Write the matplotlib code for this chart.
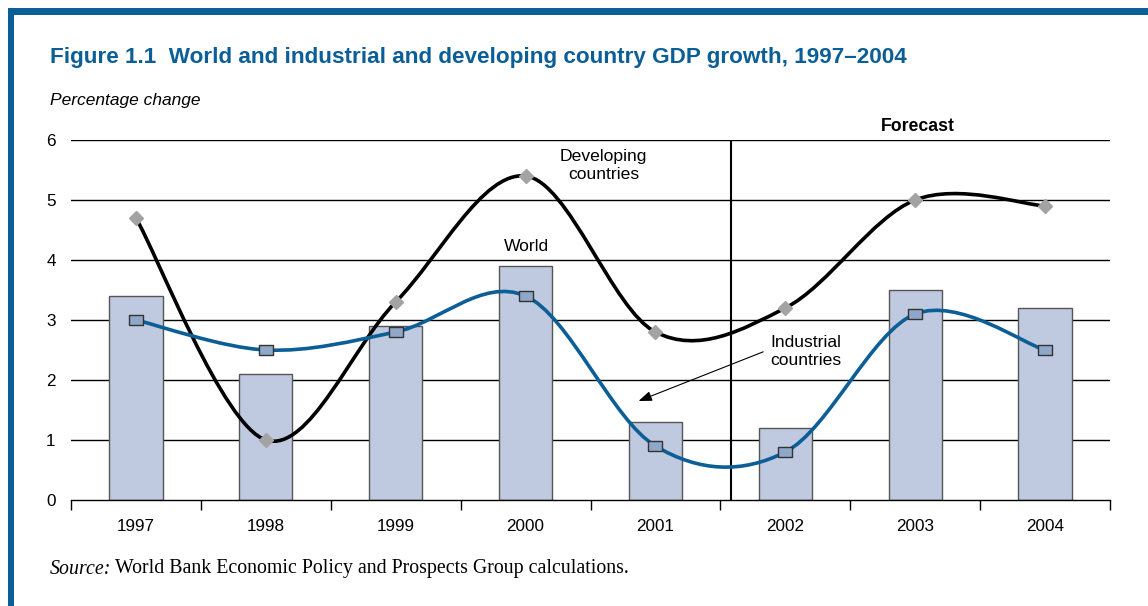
import numpy as np
import matplotlib
matplotlib.use("Agg")
import matplotlib.pyplot as plt
from matplotlib.path import Path
from matplotlib.patches import PathPatch, Rectangle

years = ["1997", "1998", "1999", "2000", "2001", "2002", "2003", "2004"]
world = [3.4, 2.1, 2.9, 3.9, 1.3, 1.2, 3.5, 3.2]
developing = [4.7, 1.0, 3.3, 5.4, 2.8, 3.2, 5.0, 4.9]
industrial = [3.0, 2.5, 2.8, 3.4, 0.9, 0.8, 3.1, 2.5]
yticks = [0, 1, 2, 3, 4, 5, 6]

BLUE = "#0b5e96"
W, H = 1148, 606

plt.rcParams['font.family'] = ['Liberation Sans', 'DejaVu Sans']

fig = plt.figure(figsize=(W / 100, H / 100), dpi=100)

def px(x0, y0, x1, y1):
    return [x0 / W, 1 - y1 / H, (x1 - x0) / W, (y1 - y0) / H]

# frame
fig.patches.append(Rectangle((8 / W, 1 - 15 / H), (W - 8) / W, 7 / H, transform=fig.transFigure,
                             facecolor=BLUE, edgecolor="none", zorder=5))
fig.patches.append(Rectangle((8 / W, 0), 6 / W, 1 - 8 / H, transform=fig.transFigure,
                             facecolor=BLUE, edgecolor="none", zorder=5))

ax = fig.add_axes(px(71, 140, 1110, 500))
x = np.arange(len(years))

ax.set_xlim(-0.5, len(years) - 0.5)
ax.set_ylim(0, 6)

for yv in yticks[1:]:
    ax.axhline(yv, color="black", lw=1.0, zorder=1)

ax.bar(x, world, width=0.41, color="#bfc9e0", edgecolor="#555555", linewidth=1.0, zorder=2)

ax.plot([4.58, 4.58], [0, 6], color="black", lw=1.5, zorder=3)


def smooth_path(xs, ys):
    pts = np.column_stack([xs, ys]).astype(float)
    n = len(pts)
    verts = [pts[0]]
    codes = [Path.MOVETO]
    for i in range(n - 1):
        p0 = pts[i - 1] if i > 0 else pts[i]
        p1 = pts[i]
        p2 = pts[i + 1]
        p3 = pts[i + 2] if i + 2 < n else pts[i + 1]
        c1 = p1 + (p2 - p0) / 6.0
        c2 = p2 - (p3 - p1) / 6.0
        verts += [c1, c2, p2]
        codes += [Path.CURVE4] * 3
    return Path(verts, codes)


ax.add_patch(PathPatch(smooth_path(x, developing), facecolor="none", edgecolor="black",
                       lw=2.6, zorder=4, capstyle="round", joinstyle="round"))
ax.add_patch(PathPatch(smooth_path(x, industrial), facecolor="none", edgecolor=BLUE,
                       lw=2.6, zorder=4, capstyle="round", joinstyle="round"))

ax.plot(x, developing, linestyle="none", marker="D", markersize=7.5, color="#a3a3a3",
        markeredgecolor="#a3a3a3", zorder=5)
rect = [(-1, -0.72), (1, -0.72), (1, 0.72), (-1, 0.72), (-1, -0.72)]
ax.plot(x, industrial, linestyle="none", marker=rect, markersize=10, color="#8fa7c9",
        markeredgecolor="#333333", markeredgewidth=1.0, zorder=5)

# axes styling
for s in ["top", "right", "left"]:
    ax.spines[s].set_visible(False)
ax.spines["bottom"].set_linewidth(1.0)
ax.spines["bottom"].set_zorder(6)

ax.set_yticks(yticks)
ax.set_yticklabels([str(v) for v in yticks], fontsize=12.3)
ax.tick_params(axis="y", length=0, pad=11)

ax.set_xticks(x)
ax.set_xticklabels(years, fontsize=12.3)
ax.set_xticks(np.arange(len(years) + 1) - 0.5, minor=True)
ax.tick_params(axis="x", which="major", length=0, pad=14)
ax.tick_params(axis="x", which="minor", length=7, width=1.0, direction="out")

# labels on the chart
ax.text(3.6, 5.58, "Developing\ncountries", ha="center", va="center", fontsize=12.6, linespacing=1.25)
ax.text(3.01, 4.23, "World", ha="center", va="center", fontsize=12.6)
ax.text(5.16, 2.47, "Industrial\ncountries", ha="center", va="center", fontsize=12.6, linespacing=1.25)
ax.annotate("", xy=(3.87, 1.65), xytext=(4.83, 2.47),
            arrowprops=dict(arrowstyle="-|>,head_length=0.8,head_width=0.3", color="black", lw=0.8,
                            shrinkA=0, shrinkB=0))
ax.text(6.02, 6.23, "Forecast", ha="center", va="center", fontsize=12.7, fontweight="bold")

# titles
fig.text(50 / W, 1 - 58 / H, "Figure 1.1  World and industrial and developing country GDP growth, 1997\u20132004",
         fontsize=16.2, fontweight="bold", color=BLUE, ha="left", va="center")
fig.text(50 / W, 1 - 100 / H, "Percentage change", fontsize=12.5, fontstyle="italic", ha="left", va="center")

t1 = fig.text(50 / W, 1 - 569 / H, "Source:", fontsize=14.3, fontstyle="italic",
              family="Liberation Serif", ha="left", va="center")
fig.canvas.draw()
bb = t1.get_window_extent()
fig.text((bb.x1 + 4) / W, 1 - 569 / H, "World Bank Economic Policy and Prospects Group calculations.",
         fontsize=14.3, family="Liberation Serif", ha="left", va="center")

fig.savefig("out.png", dpi=100)
